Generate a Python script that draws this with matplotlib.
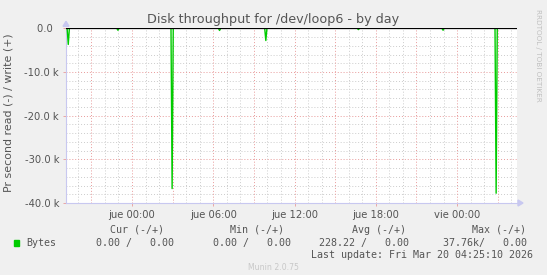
import matplotlib
matplotlib.use("Agg")
import matplotlib.pyplot as plt
import numpy as np

# ---- data (hours relative to "jue 00:00") ----
spike_hours = [-4.72, -1.03, 2.95, 6.45, 9.85, 16.75, 22.96, 26.90]
spike_reads = [3700, 450, 36700, 500, 2800, 300, 450, 37760]   # bytes/s read (plotted negative)
t_start, t_end = -4.87, 28.42

xtick_hours = [0, 6, 12, 18, 24]
xtick_labels = ["jue 00:00", "jue 06:00", "jue 12:00", "jue 18:00", "vie 00:00"]
ytick_vals = [0, -10000, -20000, -30000, -40000]
ytick_labels = ["0.0  ", "-10.0 k", "-20.0 k", "-30.0 k", "-40.0 k"]

legend_headers = ["Cur (-/+)", "Min (-/+)", "Avg (-/+)", "Max (-/+)"]
legend_values = ["0.00 /   0.00", "0.00 /   0.00", "228.22 /   0.00", "37.76k/   0.00"]
series_name = "Bytes"
last_update = "Last update: Fri Mar 20 04:25:10 2026"

# build 5-minute series from the spikes
step = 5 / 60.0
t = np.arange(t_start, t_end + step / 2, step)
v = np.zeros_like(t)
for h, val in zip(spike_hours, spike_reads):
    i = int(np.argmin(np.abs(t - h)))
    v[i] = -val

W, H = 547, 275
fig = plt.figure(figsize=(W / 100, H / 100), dpi=100, facecolor="#F0F0F0")
L, R, T, B = 66, 517, 28.3, 203
ax = fig.add_axes([L / W, 1 - B / H, (R - L) / W, (B - T) / H])
ax.set_facecolor("white")
ax.set_xlim(t_start, t_end)
ax.set_ylim(-40000, 0)

# grids
for hh in np.arange(-4, 29, 1):
    if hh % 3 != 0:
        ax.axvline(hh, color="#CCCCCC", lw=0.7, ls=(0, (1, 2)), zorder=1)
for hh in np.arange(-3, 29, 3):
    ax.axvline(hh, color="#E89A9A", lw=0.7, ls=(0, (1, 2)), zorder=1.5)
for yy in np.arange(-38000, 0, 2000):
    if yy % 10000 != 0:
        ax.axhline(yy, color="#CCCCCC", lw=0.7, ls=(0, (1, 2)), zorder=1)
for yy in ytick_vals[1:4]:
    ax.axhline(yy, color="#E89A9A", lw=0.7, ls=(0, (1, 2)), zorder=1.5)

ax.plot(t, v, color="#00CC00", lw=1.0, zorder=3)
ax.axhline(0, color="black", lw=0.9, zorder=4)

for s in ["top", "right"]:
    ax.spines[s].set_visible(False)
for s in ["left", "bottom"]:
    ax.spines[s].set_color("#C8C8F0")
    ax.spines[s].set_linewidth(0.8)

ax.set_xticks(xtick_hours)
ax.set_xticklabels(xtick_labels)
ax.set_yticks(ytick_vals)
ax.set_yticklabels(ytick_labels)
ax.tick_params(axis="both", colors="#555555", labelsize=7.2, length=2, width=0.6)
ax.tick_params(axis="x", pad=3, color="#E89A9A")
ax.tick_params(axis="y", pad=3, color="#E89A9A")

# arrows
fig.patches.append(plt.Polygon([[(R + 1) / W, 1 - (B - 3) / H], [(R + 1) / W, 1 - (B + 3) / H],
                                [(R + 6) / W, 1 - B / H]], closed=True, transform=fig.transFigure,
                               color="#C8C8F0", figure=fig))
fig.patches.append(plt.Polygon([[(L - 3) / W, 1 - (T - 2) / H], [(L + 3) / W, 1 - (T - 2) / H],
                                [L / W, 1 - (T - 7) / H]], closed=True, transform=fig.transFigure,
                               color="#C8C8F0", figure=fig))

# title and labels
fig.text(273 / W, 1 - 19 / H, "Disk throughput for /dev/loop6 - by day", ha="center", va="center",
         fontsize=9.2, color="#555555")
fig.text(9 / W, 1 - 113 / H, "Pr second read (-) / write (+)", rotation=90, ha="center", va="center",
         fontsize=7.9, color="#555555")
fig.text(538 / W, 1 - 55 / H, "RRDTOOL / TOBI OETIKER", rotation=270, ha="center", va="center",
         fontsize=5.2, color="#C0C0C0")

# legend
mono = "DejaVu Sans Mono"
hdr_right = [164, 284.5, 405.5, 526]
val_right = [173.5, 291, 409, 527]
for txt, xr in zip(legend_headers, hdr_right):
    fig.text(xr / W, 1 - 230 / H, txt, ha="right", va="center", fontsize=7.2, family=mono, color="#555555")
for txt, xr in zip(legend_values, val_right):
    fig.text(xr / W, 1 - 242.8 / H, txt, ha="right", va="center", fontsize=7.2, family=mono, color="#555555")
fig.patches.append(plt.Rectangle((14 / W, 1 - 246 / H), 5 / W, 6 / H, transform=fig.transFigure,
                                 color="#00CC00", figure=fig))
fig.text(26 / W, 1 - 242.8 / H, series_name, ha="left", va="center", fontsize=7.2, family=mono, color="#555555")
fig.text(533 / W, 1 - 254.7 / H, last_update, ha="right", va="center", fontsize=7.2, family=mono, color="#555555")
fig.text(273 / W, 1 - 268 / H, "Munin 2.0.75", ha="center", va="center", fontsize=5.6, color="#C8C8C8")

fig.savefig("out.png", dpi=100, facecolor=fig.get_facecolor())
